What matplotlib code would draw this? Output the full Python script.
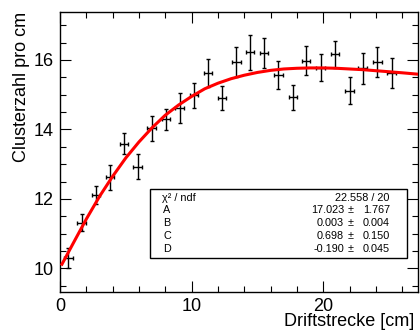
import matplotlib as mpl
mpl.use('Agg')
import matplotlib.pyplot as plt
from matplotlib.patches import Rectangle

plt.rcParams['font.family'] = ['Liberation Sans', 'DejaVu Sans']

# Messpunkte
drift = [0.63, 1.65, 2.73, 3.80, 4.86, 5.90, 6.96, 8.05, 9.10, 10.17, 11.24, 12.30,
         13.40, 14.43, 15.50, 16.60, 17.70, 18.70, 19.80, 20.90, 22.00, 23.00, 24.10, 25.20]
cluster = [10.31, 11.32, 12.11, 12.62, 13.59, 12.93, 14.03, 14.29, 14.61, 14.99, 15.62, 14.90,
           15.94, 16.22, 16.20, 15.57, 14.92, 15.98, 15.78, 16.16, 15.12, 15.76, 15.94, 15.63]
cluster_err = [0.29, 0.25, 0.27, 0.35, 0.31, 0.35, 0.35, 0.31, 0.43, 0.36, 0.40, 0.35,
               0.44, 0.50, 0.43, 0.40, 0.37, 0.41, 0.38, 0.39, 0.40, 0.45, 0.42, 0.43]
drift_err = [0.33] * len(drift)

# Fitkurve
fit_x = [0.15, 1, 2, 3, 4, 5, 6, 7, 8, 9, 10, 11, 12, 13, 14, 15, 16, 17, 18, 19, 20,
         21, 22, 23, 24, 25, 26, 27.2]
fit_y = [10.12, 10.72, 11.42, 12.07, 12.65, 13.18, 13.64, 14.05, 14.41, 14.70, 14.95, 15.17,
         15.33, 15.46, 15.56, 15.64, 15.70, 15.74, 15.76, 15.77, 15.77, 15.76, 15.74, 15.72,
         15.69, 15.66, 15.63, 15.59]

# Fitparameter
par_names = ['A', 'B', 'C', 'D']
par_vals = ['17.023', '0.003', '0.698', '-0.190']
par_errs = ['1.767', '0.004', '0.150', '0.045']
chi2_text = '22.558 / 20'


def main():
    fig = plt.figure(figsize=(4.2, 3.33), dpi=100)
    ax = fig.add_axes([60 / 420, 41 / 333, 358 / 420, 280 / 333])

    ax.errorbar(drift, cluster, yerr=cluster_err, xerr=drift_err, fmt='none',
                ecolor='black', elinewidth=1.0, capsize=1.6, capthick=1.0, zorder=2)
    ax.plot(fit_x, fit_y, color='red', lw=2.2, zorder=3)

    ax.set_xlim(0, 27.2)
    ax.set_ylim(9.32, 17.38)
    ax.set_xticks([0, 10, 20])
    ax.set_xticks(range(0, 28, 2), minor=True)
    ax.set_yticks([10, 12, 14, 16])
    ax.set_yticks([9.5 + 0.5 * i for i in range(16)], minor=True)
    ax.tick_params(which='both', direction='in', top=True, right=True,
                   labelsize=13, width=0.8)
    ax.tick_params(which='major', length=8)
    ax.tick_params(which='minor', length=4.3)
    ax.tick_params(axis='x', pad=4)
    ax.tick_params(axis='y', pad=4.5)
    for s in ax.spines.values():
        s.set_linewidth(1.0)

    ax.set_xlabel('Driftstrecke [cm]', fontsize=13, ha='right')
    ax.xaxis.set_label_coords(1 - 4 / 358, -0.075)
    ax.set_ylabel('Clusterzahl pro cm', fontsize=13, ha='right')
    ax.yaxis.set_label_coords(-0.085, 1.0)

    # Statistikbox
    box = Rectangle((150 / 420, (333 - 258) / 333), 257 / 420, 69 / 333,
                    transform=fig.transFigure, facecolor='white', edgecolor='black',
                    lw=1.0, zorder=5)
    fig.add_artist(box)
    rows_y = [201, 213, 226, 239, 252]
    fs = 7.8
    fig.text(162 / 420, 1 - rows_y[0] / 333, 'χ² / ndf', fontsize=fs, va='baseline', zorder=6)
    fig.text(389 / 420, 1 - rows_y[0] / 333, chi2_text, fontsize=fs, va='baseline',
             ha='right', zorder=6)
    for i in range(len(par_names)):
        yy = 1 - rows_y[i + 1] / 333
        fig.text(163 / 420, yy, par_names[i], fontsize=fs, va='baseline', zorder=6)
        fig.text(344 / 420, yy, par_vals[i], fontsize=fs, va='baseline',
                 ha='right', zorder=6)
        fig.text(350.5 / 420, yy, '±', fontsize=fs, va='baseline', ha='center', zorder=6)
        fig.text(390 / 420, yy, par_errs[i], fontsize=fs, va='baseline', ha='right', zorder=6)

    fig.savefig('out.png', dpi=100)


if __name__ == "__main__":
    main()
